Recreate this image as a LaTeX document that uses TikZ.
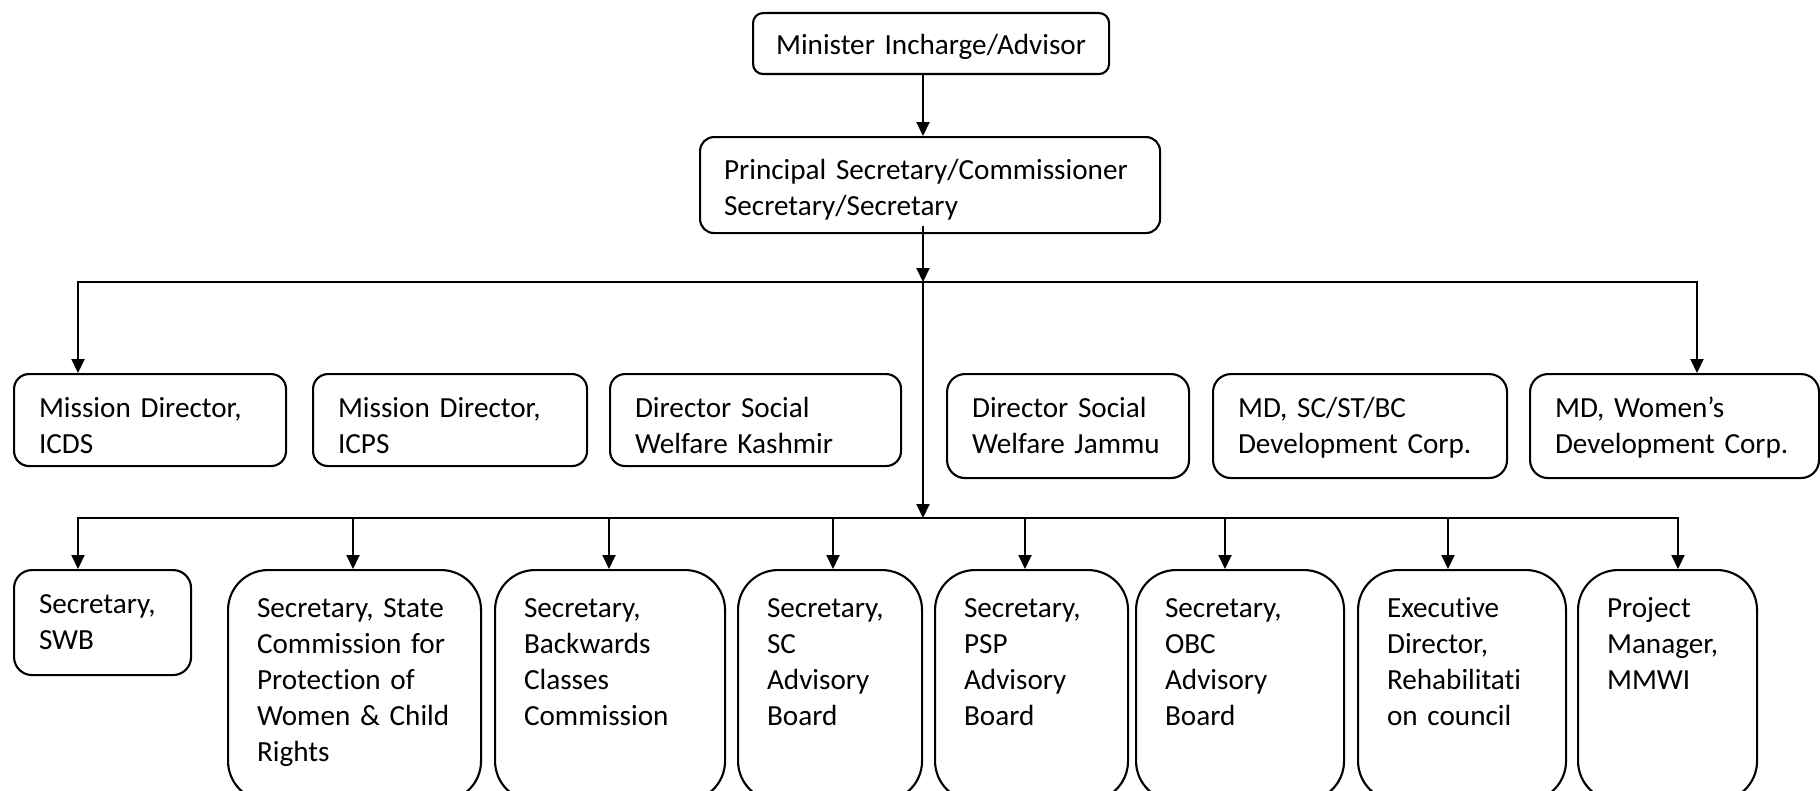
\documentclass[tikz,border=0pt]{standalone}
\usepackage{fontspec}
\setmainfont{Carlito}[Ligatures=NoCommon]
\usetikzlibrary{arrows.meta,calc}
\tikzset{
	orgbox/.style={draw, line width=0.6pt, anchor=north west, align=left, inner ysep=0pt, font=\fontsize{8.3}{10.24}\selectfont},
	headbox/.style={orgbox, rounded corners=0.10cm, align=center, inner xsep=0pt, text height=0.41cm, text depth=0.20cm},
	chiefbox/.style={orgbox, rounded corners=0.14cm, inner xsep=0.24cm, text height=0.42cm, text depth=0.54cm},
	midbox/.style={orgbox, rounded corners=0.15cm, inner xsep=0.25cm, text height=0.43cm, text depth=0.49cm},
	midtall/.style={midbox, rounded corners=0.18cm, text depth=0.61cm},
	lowbox/.style={orgbox, rounded corners=0.18cm, inner xsep=0.25cm, text height=0.43cm, text depth=0.62cm},
	lowtall/.style={orgbox, rounded corners=0.40cm, inner xsep=0.29cm, text height=0.47cm, text depth=1.84cm},
	arr/.style={line width=0.6pt, -{Triangle[length=0.14cm,width=0.13cm]}}
}

\begin{document}
\begin{tikzpicture}
		%%%%% START %%%%%
		\useasboundingbox (0, 0) rectangle (18.2, -7.91);
		\clip (0, 0) rectangle (18.2, -7.91);
		
		\node[headbox, text width=3.56cm] (minister) at (7.52, -0.12) {Minister Incharge/Advisor};
		\node[chiefbox, text width=4.12cm] (principal) at (6.99, -1.36) {Principal Secretary/Commissioner\\Secretary/Secretary};
		
		\coordinate (bus1) at (9.23, -2.82);
		\coordinate (bus2) at (9.23, -5.18);
		
		% directors
		\node[midbox, text width=2.22cm] (icds) at (0.13, -3.73) {Mission Director,\\ICDS};
		\node[midbox, text width=2.24cm] (icps) at (3.12, -3.73) {Mission Director,\\ICPS};
		\node[midbox, text width=2.41cm] (dswk) at (6.09, -3.73) {Director Social\\Welfare Kashmir};
		\node[midtall, text width=1.92cm] (dswj) at (9.46, -3.73) {Director Social\\Welfare Jammu};
		\node[midtall, text width=2.44cm] (sccorp) at (12.12, -3.73) {MD, SC/ST/BC\\Development Corp.};
		\node[midtall, text width=2.39cm] (wdc) at (15.29, -3.73) {MD, Women’s\\Development Corp.};
		
		% secretaries
		\node[lowbox, text width=1.27cm] (swb) at (0.13, -5.69) {Secretary,\\SWB};
		\node[lowtall, text width=1.95cm] (scpcr) at (2.27, -5.69) {Secretary, State\\Commission for\\Protection of\\Women \& Child\\Rights};
		\node[lowtall, text width=1.72cm] (bcc) at (4.94, -5.69) {Secretary,\\Backwards\\Classes\\Commission};
		\node[lowtall, text width=1.26cm] (scab) at (7.37, -5.69) {Secretary,\\SC\\Advisory\\Board};
		\node[lowtall, text width=1.35cm] (pspab) at (9.34, -5.69) {Secretary,\\PSP\\Advisory\\Board};
		\node[lowtall, text width=1.50cm] (obcab) at (11.35, -5.69) {Secretary,\\OBC\\Advisory\\Board};
		\node[lowtall, text width=1.50cm] (rehab) at (13.57, -5.69) {Executive\\Director,\\Rehabilitati\\on council};
		\node[lowtall, text width=1.21cm] (mmwi) at (15.77, -5.69) {Project\\Manager,\\MMWI};
		
		\draw[arr] (minister.south -| bus1) -- (principal.north -| bus1);
		\draw[arr] ($(principal.south -| bus1)+(0, 0.08)$) -- (bus1);
		\draw[arr] (bus1) -- (bus2);
		
		\draw[arr] (bus1) -| ([xshift=0.65cm]icds.north west);
		\draw[arr] (bus1) -| ([xshift=1.68cm]wdc.north west);
		
		\draw[arr] (bus2) -| ([xshift=0.65cm]swb.north west);
		\draw[arr] (bus2) -| ([xshift=1.26cm]scpcr.north west);
		\draw[arr] (bus2) -| ([xshift=1.15cm]bcc.north west);
		\draw[arr] (bus2) -| ([xshift=0.96cm]scab.north west);
		\draw[arr] (bus2) -| ([xshift=0.91cm]pspab.north west);
		\draw[arr] (bus2) -| ([xshift=0.90cm]obcab.north west);
		\draw[arr] (bus2) -| ([xshift=0.91cm]rehab.north west);
		\draw[arr] (bus2) -| ([xshift=1.01cm]mmwi.north west);
		
		%%%%% END %%%%%
	\end{tikzpicture}
\end{document}
